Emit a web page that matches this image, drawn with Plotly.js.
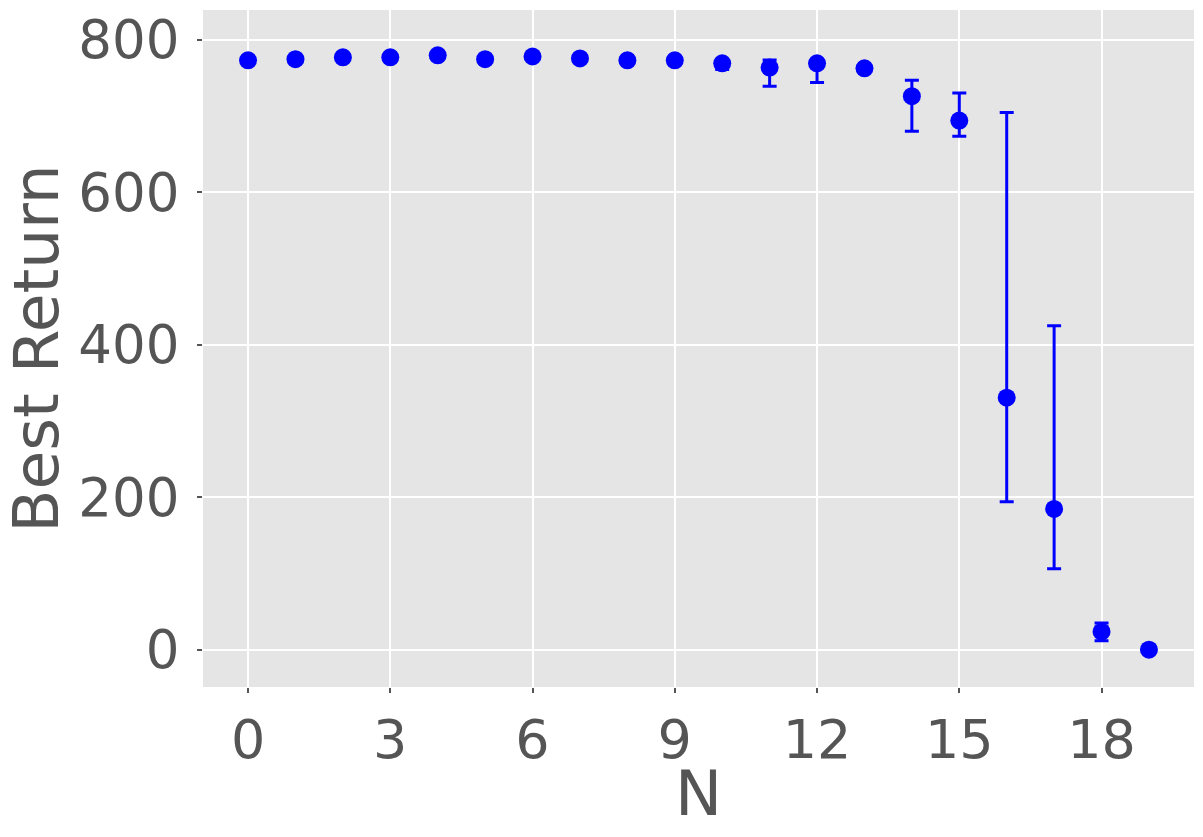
<!DOCTYPE html>
<html>
<head>
<meta charset="utf-8">
<script src="https://cdn.plot.ly/plotly-3.0.1.min.js"></script>
<style>html,body{margin:0;padding:0;background:#fff;}#chart{width:1203px;height:837px;}</style>
</head>
<body>
<div id="chart"></div>
<script>
const nValues = [0,1,2,3,4,5,6,7,8,9,10,11,12,13,14,15,16,17,18,19];
const bestReturn = [773, 774.5, 777, 777, 779.5, 774.5, 778, 775.5, 773, 773, 769, 763.5, 769, 762.5, 726, 694, 330.5, 184.5, 23.5, 0];
const errUpper = [2, 2, 2, 2, 2, 2, 2, 2, 2, 2, 4, 10, 3, 2, 21, 36, 374, 240.5, 11.5, 0];
const errLower = [2, 2, 2, 2, 2, 2, 2, 2, 2, 2, 8, 24.5, 25, 2, 46, 20.5, 136.5, 78.5, 11.7, 0];
const xTicks = [0,3,6,9,12,15,18];
const yTicks = [0,200,400,600,800];
const xTitle = 'N';
const yTitle = 'Best Return';

const trace = {
  x: nValues, y: bestReturn, type: 'scatter', mode: 'markers',
  marker: {color: '#0000ff', size: 18},
  error_y: {type: 'data', symmetric: false, array: errUpper, arrayminus: errLower,
            color: '#0000ff', thickness: 3, width: 7},
  hoverinfo: 'x+y'
};

const font = {family: 'DejaVu Sans, sans-serif', color: '#555555'};
const layout = {
  width: 1203, height: 837,
  margin: {l: 203, r: 9, t: 10, b: 150, pad: 0},
  paper_bgcolor: '#ffffff', plot_bgcolor: '#e5e5e5',
  showlegend: false,
  font: font,
  xaxis: {
    range: [-0.95, 19.95], tickvals: xTicks, ticktext: xTicks.map(String),
    showgrid: true, gridcolor: '#ffffff', gridwidth: 2, zeroline: false,
    ticks: 'outside', ticklen: 5, tickwidth: 2, tickcolor: '#555555',
    tickfont: {family: 'DejaVu Sans, sans-serif', size: 54, color: '#555555'},
    showline: false, automargin: false
  },
  yaxis: {
    range: [-49, 839], tickvals: yTicks, ticktext: yTicks.map(String),
    showgrid: true, gridcolor: '#ffffff', gridwidth: 2, zeroline: false,
    ticks: 'outside', ticklen: 5, tickwidth: 2, tickcolor: '#555555',
    ticklabelstandoff: 7,
    tickfont: {family: 'DejaVu Sans, sans-serif', size: 53, color: '#555555'},
    title: {text: yTitle, font: {family: 'DejaVu Sans, sans-serif', size: 63, color: '#555555'}, standoff: 10},
    showline: false, automargin: false
  },
  annotations: [{
    text: xTitle, xref: 'paper', yref: 'paper', x: 0.5, y: -0.158,
    xanchor: 'center', yanchor: 'middle', showarrow: false,
    font: {family: 'DejaVu Sans, sans-serif', size: 63, color: '#555555'}
  }]
};
Plotly.newPlot('chart', [trace], layout, {displayModeBar: false, staticPlot: true});
</script>
</body>
</html>
